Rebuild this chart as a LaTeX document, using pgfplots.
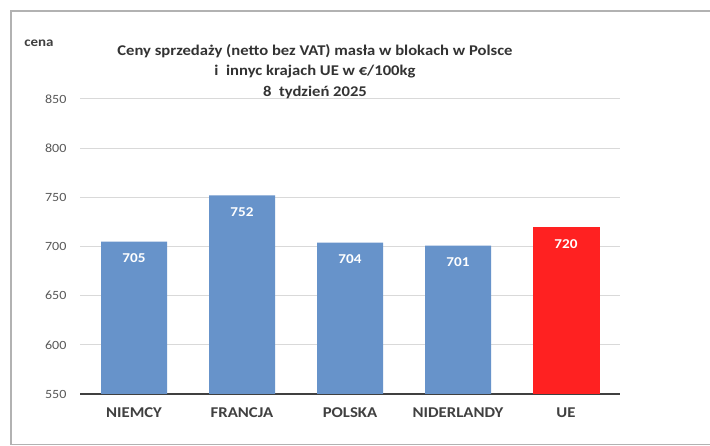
\documentclass[border=0pt]{standalone}
\usepackage{fontspec}
\setmainfont{Carlito}[FakeStretch=1.12]
\usepackage{pgfplots}
\pgfplotsset{compat=1.18}
\definecolor{barblue}{HTML}{6793CA}
\definecolor{barred}{HTML}{FF2121}
\definecolor{gridc}{HTML}{D9D9D9}
\definecolor{tickc}{HTML}{595959}
\definecolor{txt}{HTML}{404040}
\definecolor{titlec}{HTML}{333333}
\begin{document}
\begin{tikzpicture}[x=1bp,y=1bp]
\useasboundingbox (0,0) rectangle (710,446);
\fill[white] (0,0) rectangle (710,446);
\draw[black!30, line width=1.2bp] (710,435) -- (11,435) -- (11,1.5) -- (710,1.5);
\begin{axis}[
  at={(80bp,52bp)}, anchor=south west,
  scale only axis, width=540bp, height=295bp,
  xmin=-0.5, xmax=4.5, ymin=550, ymax=850,
  ytick={550,600,...,850},
  xtick={0,1,2,3,4},
  xticklabels={NIEMCY,FRANCJA,POLSKA,NIDERLANDY,UE},
  axis x line=bottom, axis y line=left,
  axis line style={-},
  x axis line style={txt, line width=1.6bp},
  y axis line style={draw=none},
  major tick length=0pt,
  ymajorgrids, grid style={gridc, line width=1bp},
  /pgf/number format/assume math mode=true,
  yticklabel style={color=tickc, font=\fontsize{12.6}{15}\selectfont, xshift=-10bp},
  xticklabel style={color=txt, font=\bfseries\fontsize{15}{17}\selectfont, yshift=-10bp},
  every node near coord/.append style={anchor=center, yshift=-17bp, color=white, font=\bfseries\fontsize{13.6}{16}\selectfont},
  clip=false,
]
\addplot[ybar, bar shift=0pt, bar width=66bp, fill=barblue, draw=none, nodes near coords] coordinates {(0,705) (1,752) (2,704) (3,701)};
\addplot[ybar, bar shift=0pt, bar width=67bp, fill=barred, draw=none, nodes near coords] coordinates {(4,720)};
\end{axis}
\node[font=\bfseries\fontsize{13.4}{16}\selectfont, color=txt] at (39,403) {cena};
\node[font=\bfseries\fontsize{14.9}{20.5}\selectfont, color=titlec, align=center] at (315,374.5) {Ceny sprzedaży (netto bez VAT) masła w blokach w Polsce\\i\ \ innyc krajach UE w €/100kg\\8\ \ tydzień 2025};
\end{tikzpicture}
\end{document}
